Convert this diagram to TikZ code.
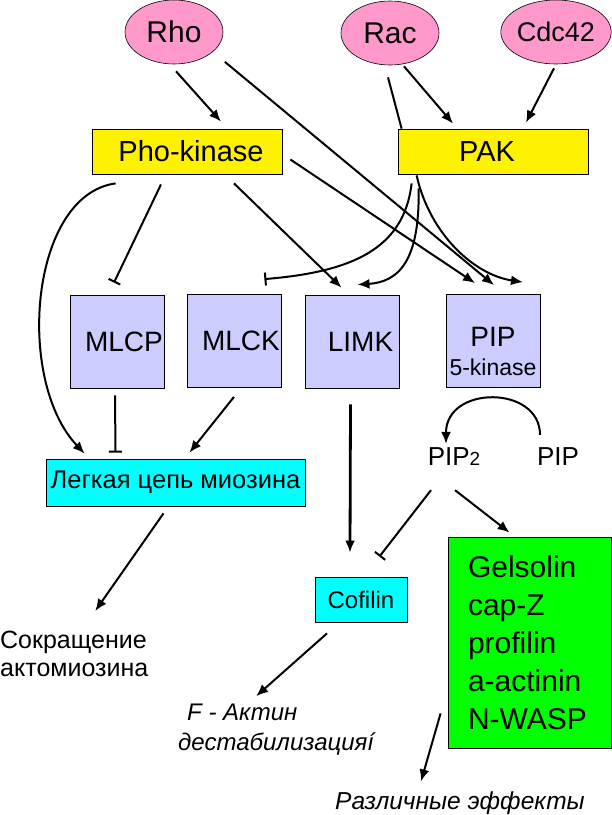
\documentclass[tikz,border=0pt]{standalone}
\usepackage{fontspec}
\setmainfont{Liberation Sans}
\usepackage{xcolor}
\usetikzlibrary{arrows.meta,calc,shapes.geometric}
\definecolor{rhopink}{RGB}{255,153,204}
\definecolor{kinlav}{RGB}{204,204,255}
\definecolor{effgreen}{RGB}{0,255,0}
\definecolor{tgtcyan}{RGB}{0,255,255}
\newcommand\fsz[1]{\fontsize{#1}{#1}\selectfont}
\newcommand\fszb[2]{\fontsize{#1}{#2}\selectfont}

\begin{document}
\begin{tikzpicture}[x=1pt,y=-1pt,
    gtp/.style={ellipse,draw,line width=0.6pt,fill=rhopink,minimum width=98pt,minimum height=64pt,inner sep=0pt,font=\fsz{30}},
    ybox/.style={draw,line width=0.8pt,fill=yellow,minimum width=190pt,minimum height=45pt,inner sep=0pt,font=\fsz{29}},
    kbox/.style={draw,line width=0.8pt,fill=kinlav,minimum width=94pt,minimum height=93pt,inner sep=0pt,font=\fsz{28}},
    cbox/.style={draw,line width=0.8pt,fill=tgtcyan,inner sep=0pt,font=\fsz{24}},
    lbl/.style={inner sep=0pt},
    ln/.style={line width=2pt},
    arr/.style={line width=2pt,-{Latex[length=12pt,width=10pt]}},
    inh/.style={line width=2pt,-{Bar[width=13pt,line width=2pt]}}]
  \useasboundingbox (0,0) rectangle (612,815);

  % small GTPases
  \node[gtp] (rho) at (174,32) {Rho};
  \node[gtp] (rac) at (390,33) {Rac};
  \node[gtp,font=\fsz{27}] (cdc) at (556,32) {Cdc42};

  % kinases
  \node[ybox] (phok) at (187,151.5) {\hspace*{8pt}Pho-kinase};
  \node[ybox] (pak)  at (493,151.5) {PAK\hspace*{12pt}};

  \node[kbox] (mlcp) at (117,341.5) {\hspace*{14pt}MLCP};
  \node[kbox] (mlck) at (234,341)   {\hspace*{14pt}MLCK};
  \node[kbox] (limk) at (352.5,341.5) {\hspace*{16pt}LIMK};
  \node[kbox,align=center] (pipk) at (493,341) {\rule{0pt}{40pt}PIP\\[1pt]{\fsz{23}5-kinase}};

  % targets
  \node[cbox,minimum width=259pt,minimum height=47pt,font=\fsz{25.5}] (myo) at (175.5,482.5) {Легкая цепь миозина};
  \node[cbox,minimum width=92pt,minimum height=45pt] (cof) at (361,599.5) {Cofilin};
  \node[draw,line width=0.8pt,fill=effgreen,minimum width=163pt,minimum height=211pt,inner sep=0pt,
        text width=123pt,align=left,font={\fszb{30}{38}}] (grn) at (529.5,642.5)
        {Gelsolin\\cap-Z\\profilin\\a-actinin\\N-WASP};

  \node[lbl,font=\fsz{26}] (pip2) at (454,457) {PIP{\fsz{19}2}};
  \node[lbl,font=\fsz{26}] (pip)  at (558,457) {PIP};

  % outcomes
  \node[lbl,anchor=west,align=left,font={\fszb{25}{28}}] (sokr) at (0,654) {Сокращение\\актомиозина};
  \node[lbl,anchor=west,align=left,font={\itshape\fszb{24}{30}}] (fakt) at (178,730) {\hspace*{9pt}F - Актин\\дестабилизацияí};
  \node[lbl,font=\itshape\fsz{24.5}] (razl) at (460,803) {Различные эффекты};

  % Rho / Rac / Cdc42
  \draw[arr] ($(rho.south)+(2,7)$) -- ($(phok.north)+(34,-7)$);
  \draw[arr] ($(rho.south east)+(16,7)$) -- ($(pipk.north)+(1,-9)$);
  \draw[arr] ($(rac.south)+(14,1)$) -- ($(pak.north)+(-40,-5)$);
  \draw[arr] ($(cdc.south)+(-2,4)$) -- ($(pak.north)+(33,-6)$);
  \draw[ln] ($(rac.south)+(-2,12)$) -- ($(pak.north west)+(4,0)$);

  % PAK
  \draw[inh] ($(pak.south west)+(14,9)$) .. controls (404,250) and (350,272) .. ($(mlck.north east)+(-17,-15)$);
  \draw[arr] ($(pak.south west)+(21,14)$) .. controls (420,262) and (398,282) .. ($(limk.north)+(5,-10)$);
  \draw[arr] ($(pak.south west)+(19,1)$) .. controls (430,235) and (475,275) .. ($(pipk.north)+(30,-12)$);

  % Pho-kinase
  \draw[arr] ($(phok.east)+(8,8)$) -- ($(pipk.north)+(-18,-11)$);
  \draw[arr] ($(phok.south)+(47,9)$) -- ($(limk.north)+(-11,-7)$);
  \draw[inh] ($(phok.south)+(-26,10)$) -- ($(mlcp.north)+(-3,-12)$);
  \draw[arr] ($(phok.south west)+(24,9)$) .. controls (30,195) and (15,380) .. ($(myo.north west)+(39,-5)$);

  % kinases to targets
  \draw[inh] ($(mlcp.south)+(-2,7)$) -- ($(myo.north)+(-60,-6)$);
  \draw[arr] ($(mlck.south)+(0,9)$) -- ($(myo.north)+(14,-6)$);
  \draw[arr,line width=2.8pt] ($(limk.south)+(-2,16)$) -- ($(cof.north)+(-11,-24)$);

  % PIP
  \draw[arr] ($(pip.north)+(-18,-13)$) .. controls (540,385) and (446,385) .. ($(pip2.north)+(-8,-4)$);
  \draw[inh] ($(pip2.south)+(-23,24)$) -- ($(cof.north east)+(-28,-20)$);
  \draw[arr] ($(pip2.south)+(1,24)$) -- ($(grn.north west)+(62,-4)$);

  % outcomes
  \draw[arr] ($(myo.south)+(-12,7)$) -- ($(sokr.north)+(21,-20)$);
  \draw[arr] ($(cof.south)+(-34,11)$) -- ($(fakt.north)+(-20,-8)$);
  \draw[arr] ($(grn.south west)+(-7,-35)$) -- ($(razl.north)+(-39,-10)$);
\end{tikzpicture}
\end{document}
